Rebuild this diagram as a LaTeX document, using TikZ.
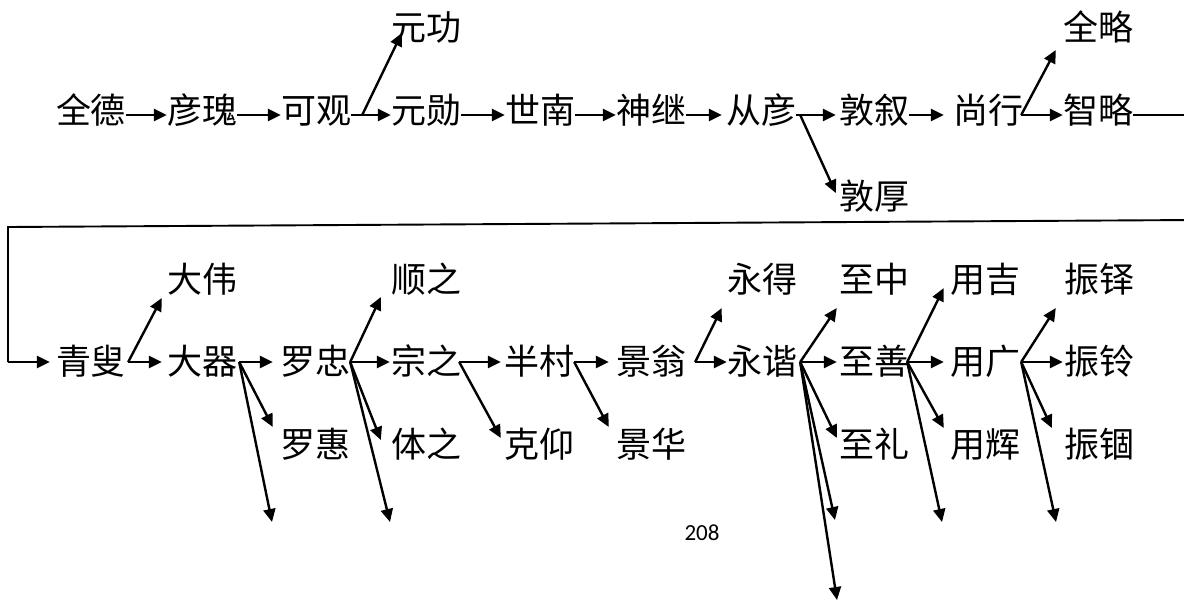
\documentclass[tikz,border=0pt]{standalone}
\usepackage{fontspec}
\newfontfamily\cjk{Noto Sans CJK SC}
\newfontfamily\numfont{Carlito}
\usetikzlibrary{arrows.meta}
\begin{document}
\begin{tikzpicture}[x=1pt,y=-1pt,
  nm/.style={inner sep=0pt, minimum width=70pt, text height=29pt, text depth=3pt,
    font=\cjk\fontsize{35}{35}\selectfont},
  arr/.style={line width=2.4pt, line join=miter, -{Triangle[length=13pt,width=12pt]}},
  link/.style={line width=1.9pt, line join=miter}]
\useasboundingbox (0,0) rectangle (1184,602);
\fill[white] (0,0) rectangle (1184,602);
% ---------- row 1 ----------
\node[nm] (qd) at (91,110) {全德};
\node[nm] (yk) at (202,110) {彦瑰};
\node[nm] (kg) at (316,110) {可观};
\node[nm] (yx) at (426,110) {元勋};
\node[nm] (yg) at (426,28) {元功};
\node[nm] (sn) at (540,110) {世南};
\node[nm] (sj) at (651,110) {神继};
\node[nm] (cy) at (761,110) {从彦};
\node[nm] (dx) at (874,110) {敦叙};
\node[nm] (dh) at (874,196) {敦厚};
\node[nm] (sx) at (988,110) {尚行};
\node[nm] (zl) at (1098,110) {智略};
\node[nm] (ql) at (1098,28) {全略};
\draw[arr] ([yshift=-5pt]qd.east) -- ([yshift=-5pt]yk.west);
\draw[arr] ([yshift=-5pt]yk.east) -- ([yshift=-5pt]kg.west);
\draw[arr] ([yshift=-5pt]kg.east) -- ([yshift=-5pt]yx.west);
\draw[arr] ([xshift=11pt,yshift=-5pt]kg.east) -- ([xshift=11pt,yshift=-5pt]yg.west);
\draw[arr] ([yshift=-5pt]yx.east) -- ([yshift=-5pt]sn.west);
\draw[arr] ([yshift=-5pt]sn.east) -- ([yshift=-5pt]sj.west);
\draw[arr] ([yshift=-5pt]sj.east) -- ([xshift=-4pt,yshift=-5pt]cy.west);
\draw[arr] ([yshift=-5pt]cy.east) -- ([xshift=-3pt,yshift=-5pt]dx.west);
\draw[arr] ([xshift=4pt,yshift=-5pt]cy.east) -- ([xshift=-3pt,yshift=3pt]dh.west);
\draw[arr] ([yshift=-5pt]dx.east) -- ([xshift=-9pt,yshift=-5pt]sx.west);
\draw[arr] ([xshift=-2pt,yshift=-5pt]sx.east) -- ([yshift=-5pt]zl.west);
\draw[arr] ([xshift=-2pt,yshift=-5pt]sx.east) -- ([xshift=-7pt,yshift=-22pt]ql.west);
% ---------- row 2 ----------
\node[nm] (qs) at (91,361) {青叟};
\node[nm] (dw) at (202,279) {大伟};
\node[nm] (dq) at (202,361) {大器};
\node[nm] (lz) at (315,361) {罗忠};
\node[nm] (lh) at (315,444) {罗惠};
\node[nm] (sz) at (426,279) {顺之};
\node[nm] (zz) at (426,361) {宗之};
\node[nm] (tz) at (426,444) {体之};
\node[nm] (bc) at (539,361) {半村};
\node[nm] (ky) at (539,444) {克仰};
\node[nm] (jw) at (651,361) {景翁};
\node[nm] (jh) at (651,444) {景华};
\node[nm] (yd) at (762,279) {永得};
\node[nm] (yxie) at (762,361) {永谐};
\node[nm] (zzh) at (874,279) {至中};
\node[nm] (zs) at (874,361) {至善};
\node[nm] (zli) at (874,444) {至礼};
\node[nm] (yj) at (985,279) {用吉};
\node[nm] (ygu) at (985,361) {用广};
\node[nm] (yh) at (985,444) {用辉};
\node[nm] (zd) at (1099,279) {振铎};
\node[nm] (zlg) at (1099,361) {振铃};
\node[nm] (zgu) at (1099,444) {振锢};
\node[inner sep=0pt, font=\numfont\fontsize{23}{23}\selectfont] (pg) at (702,533) {208};
% free ends
\coordinate (d1) at (272,522);
\coordinate (d2) at (390,522);
\coordinate (d3) at (835,520);
\coordinate (d4) at (837,600);
\coordinate (d5) at (942,522);
\coordinate (d6) at (1056,522);
% return line
\coordinate (r1) at (1194,115);
\coordinate (r2) at (1194,220);
\coordinate (r3) at (8,227);
\coordinate (r4) at (8,362);
\draw[link] ([yshift=-5pt]zl.east) -- (r1) -- (r2) -- (r3) -- (r4);
\draw[arr] (r4) -- ([xshift=-6pt,yshift=-1pt]qs.west);
% 青叟
\draw[arr] ([xshift=2pt,yshift=-1pt]qs.east) -- ([xshift=-5pt,yshift=-1pt]dq.west);
\draw[arr] ([xshift=2pt,yshift=-1pt]qs.east) -- ([xshift=-5pt,yshift=-19pt]dw.west);
% 大器
\draw[arr] ([xshift=2pt,yshift=-1pt]dq.east) -- ([xshift=-7pt,yshift=-1pt]lz.west);
\draw[arr] ([xshift=2pt,yshift=-1pt]dq.east) -- ([xshift=-7pt,yshift=17pt]lh.west);
\draw[arr] ([xshift=2pt,yshift=-1pt]dq.east) -- (d1);
% 罗忠
\draw[arr] ([yshift=-1pt]lz.east) -- ([xshift=-1pt,yshift=-1pt]zz.west);
\draw[arr] ([yshift=-1pt]lz.east) -- ([xshift=-10pt,yshift=-18pt]sz.west);
\draw[arr] ([yshift=-1pt]lz.east) -- ([xshift=-10pt,yshift=4pt]tz.west);
\draw[arr] ([yshift=-1pt]lz.east) -- (d2);
% 宗之
\draw[arr] ([xshift=-2pt,yshift=-1pt]zz.east) -- ([xshift=-3pt,yshift=-1pt]bc.west);
\draw[arr] ([xshift=-2pt,yshift=-1pt]zz.east) -- ([xshift=-3pt,yshift=6pt]ky.west);
% 半村
\draw[arr] ([yshift=-1pt]bc.east) -- ([xshift=-7pt,yshift=-1pt]jw.west);
\draw[arr] ([yshift=-1pt]bc.east) -- ([xshift=-7pt,yshift=17pt]jh.west);
% 景翁
\draw[arr] ([xshift=9pt,yshift=-1pt]jw.east) -- ([yshift=-1pt]yxie.west);
\draw[arr] ([xshift=9pt,yshift=-1pt]jw.east) -- ([xshift=-5pt,yshift=-29pt]yd.west);
% 永谐
\draw[arr] ([xshift=3pt,yshift=-1pt]yxie.east) -- ([xshift=-2pt,yshift=-1pt]zs.west);
\draw[arr] ([xshift=3pt,yshift=-1pt]yxie.east) -- ([xshift=-2pt,yshift=-29pt]zzh.west);
\draw[arr] ([xshift=3pt,yshift=-1pt]yxie.east) -- ([xshift=-2pt,yshift=6pt]zli.west);
\draw[arr] ([xshift=3pt,yshift=-1pt]yxie.east) -- (d3);
\draw[arr] ([xshift=3pt,yshift=-1pt]yxie.east) -- (d4);
% 至善
\draw[arr] ([xshift=-2pt,yshift=-1pt]zs.east) -- ([xshift=-6pt,yshift=-1pt]ygu.west);
\draw[arr] ([xshift=-2pt,yshift=-1pt]zs.east) -- ([xshift=-6pt,yshift=-9pt]yj.west);
\draw[arr] ([xshift=-2pt,yshift=-1pt]zs.east) -- ([xshift=-6pt,yshift=16pt]yh.west);
\draw[arr] ([xshift=-2pt,yshift=-1pt]zs.east) -- (d5);
% 用广
\draw[arr] ([xshift=1pt,yshift=-1pt]ygu.east) -- ([xshift=-1pt,yshift=-1pt]zlg.west);
\draw[arr] ([xshift=1pt,yshift=-1pt]ygu.east) -- ([xshift=-8pt,yshift=-29pt]zd.west);
\draw[arr] ([xshift=1pt,yshift=-1pt]ygu.east) -- ([xshift=-12pt,yshift=16pt]zgu.west);
\draw[arr] ([xshift=1pt,yshift=-1pt]ygu.east) -- (d6);
\end{tikzpicture}
\end{document}
